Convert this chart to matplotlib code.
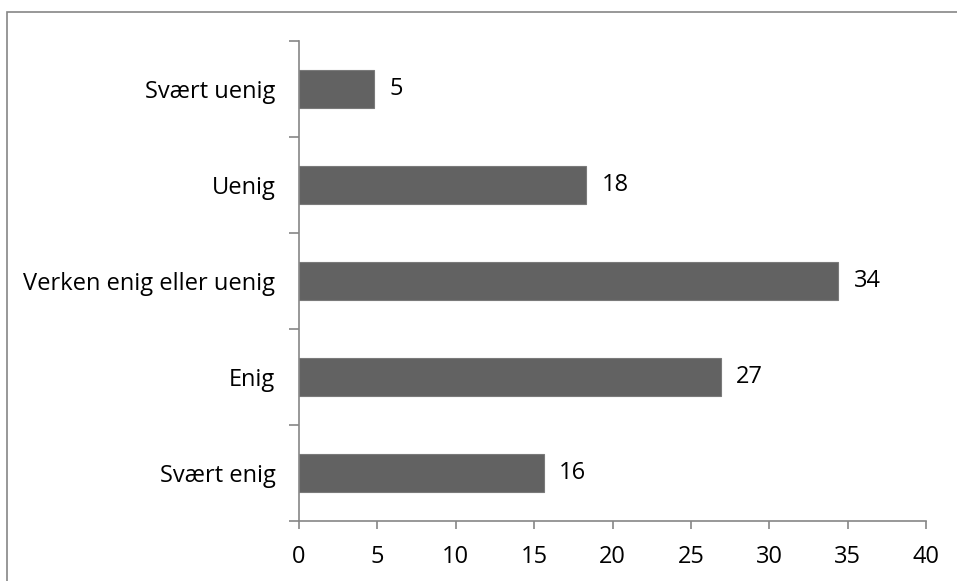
import matplotlib
matplotlib.use("Agg")
import matplotlib.pyplot as plt
from matplotlib.patches import Rectangle
import numpy as np

categories = ["Svært uenig", "Uenig", "Verken enig eller uenig", "Enig", "Svært enig"]
values = [4.8, 18.3, 34.4, 26.9, 15.6]
value_labels = ["5", "18", "34", "27", "16"]
x_ticks = [0, 5, 10, 15, 20, 25, 30, 35, 40]

plt.rcParams['font.family'] = ['Open Sans', 'DejaVu Sans']
FS = 17

fig = plt.figure(figsize=(9.57, 5.81), dpi=100)
ax = fig.add_axes([299/957, 1-521/581, (926-299)/957, (521-41)/581])

n = len(categories)
pos = np.arange(n)[::-1]  # first category at top
bar_color = "#626262"
axis_color = "#868686"
ax.barh(pos, values, height=0.4, color=bar_color, edgecolor="#7a7a7a", linewidth=0.8)

for p, v, lab in zip(pos, values, value_labels):
    ax.text(v + 1.0, p, lab, va="center", ha="left", fontsize=FS, color="black")

ax.set_xlim(0, 40)
ax.set_ylim(-0.5, n - 0.5)
ax.set_xticks(x_ticks)
ax.set_xticklabels([str(t) for t in x_ticks], fontsize=FS)

ax.set_yticks(np.arange(-0.5, n, 1.0))
ax.set_yticklabels([])
ax.set_yticks(pos, minor=True)
ax.set_yticklabels(categories, minor=True, fontsize=FS)
ax.tick_params(axis="y", which="minor", length=0, pad=17)
ax.tick_params(axis="y", which="major", length=7, color=axis_color, width=1.2)
ax.tick_params(axis="x", which="major", length=6, color=axis_color, width=1.2, pad=11)

for s in ["top", "right"]:
    ax.spines[s].set_visible(False)
for s in ["left", "bottom"]:
    ax.spines[s].set_color(axis_color)
    ax.spines[s].set_linewidth(1.2)

# outer chart border
fig.patches.append(Rectangle((7.5/957, -0.2), 1.2, 1 - 11.5/581 + 0.2,
                             transform=fig.transFigure, fill=False,
                             edgecolor=axis_color, linewidth=1.2))

fig.savefig("out.png", dpi=100)
